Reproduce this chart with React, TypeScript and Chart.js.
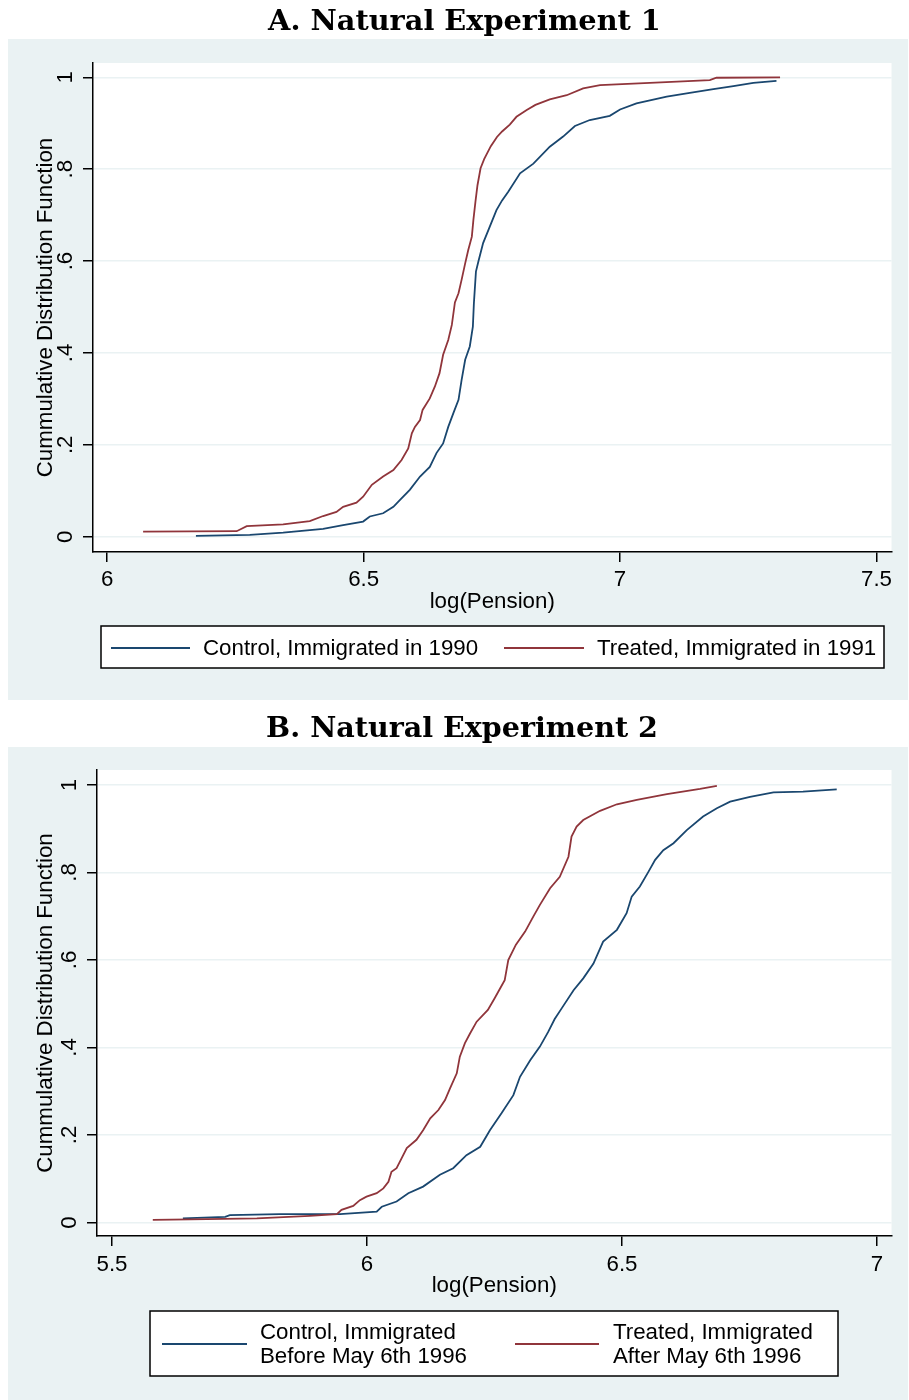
import React, { useEffect, useRef } from "react";
import { Chart, registerables } from "chart.js";

Chart.register(...registerables);

const SANS = "Arial, 'Liberation Sans', Helvetica, sans-serif";
const SERIF = "'DejaVu Serif', serif";
const NAVY = "rgb(26,71,111)";
const MAROON = "rgb(144,53,59)";
const PANEL_BG = "rgb(234,242,243)";
const GRID = "rgb(234,242,243)";

// ---------- shared axis ticks ----------
const yTicks = [0, 0.2, 0.4, 0.6, 0.8, 1];
const yTickLabels = ["0", ".2", ".4", ".6", ".8", "1"];
const yTitle = "Cummulative Distribution Function";
const xTitle = "log(Pension)";

// ---------- Panel A ----------
const aTitle = "A. Natural Experiment 1";
const aXTicks = [6, 6.5, 7, 7.5];
const aXTickLabels = ["6", "6.5", "7", "7.5"];
const aLegend = [["Control, Immigrated in 1990"], ["Treated, Immigrated in 1991"]];

const aControlX = [6.173, 6.278, 6.343, 6.421, 6.46, 6.499, 6.512, 6.538, 6.558, 6.571, 6.59, 6.61, 6.629, 6.642, 6.655, 6.665, 6.675, 6.685, 6.691, 6.698, 6.707, 6.713, 6.715, 6.719, 6.724, 6.733, 6.746, 6.759, 6.77, 6.782, 6.805, 6.831, 6.863, 6.889, 6.912, 6.941, 6.98, 7.0, 7.032, 7.091, 7.136, 7.182, 7.221, 7.26, 7.305];
const aControlY = [0.002, 0.004, 0.009, 0.017, 0.025, 0.033, 0.044, 0.051, 0.065, 0.08, 0.102, 0.131, 0.152, 0.182, 0.203, 0.239, 0.269, 0.298, 0.341, 0.385, 0.414, 0.457, 0.508, 0.577, 0.6, 0.639, 0.675, 0.711, 0.732, 0.751, 0.791, 0.812, 0.849, 0.871, 0.894, 0.907, 0.916, 0.93, 0.943, 0.958, 0.966, 0.974, 0.981, 0.988, 0.992];

const aTreatedX = [6.07, 6.2525, 6.272, 6.343, 6.395, 6.421, 6.447, 6.46, 6.486, 6.499, 6.516, 6.538, 6.558, 6.574, 6.587, 6.594, 6.6, 6.61, 6.615, 6.629, 6.639, 6.648, 6.655, 6.665, 6.672, 6.678, 6.685, 6.691, 6.698, 6.704, 6.711, 6.714, 6.718, 6.722, 6.728, 6.735, 6.748, 6.76, 6.77, 6.785, 6.798, 6.818, 6.835, 6.863, 6.896, 6.928, 6.961, 7.058, 7.175, 7.188, 7.312];
const aTreatedY = [0.011, 0.012, 0.023, 0.027, 0.034, 0.045, 0.054, 0.065, 0.074, 0.087, 0.113, 0.131, 0.145, 0.167, 0.192, 0.225, 0.239, 0.254, 0.276, 0.301, 0.327, 0.356, 0.396, 0.428, 0.461, 0.51, 0.53, 0.559, 0.595, 0.624, 0.653, 0.689, 0.729, 0.765, 0.802, 0.822, 0.85, 0.87, 0.882, 0.897, 0.914, 0.929, 0.94, 0.952, 0.961, 0.976, 0.983, 0.988, 0.994, 0.999, 1.0];

// ---------- Panel B ----------
const bTitle = "B. Natural Experiment 2";
const bXTicks = [5.5, 6, 6.5, 7];
const bXTickLabels = ["5.5", "6", "6.5", "7"];
const bLegend = [["Control, Immigrated", "Before May 6th 1996"], ["Treated, Immigrated", "After May 6th 1996"]];

const bControlX = [5.639, 5.722, 5.731, 5.829, 5.947, 6.019, 6.029, 6.058, 6.081, 6.11, 6.143, 6.169, 6.195, 6.222, 6.241, 6.264, 6.287, 6.3, 6.32, 6.339, 6.355, 6.368, 6.382, 6.405, 6.424, 6.444, 6.463, 6.49, 6.509, 6.519, 6.535, 6.552, 6.565, 6.581, 6.601, 6.627, 6.659, 6.686, 6.712, 6.751, 6.797, 6.855, 6.921];
const bControlY = [0.0096, 0.013, 0.017, 0.019, 0.019, 0.025, 0.036, 0.048, 0.067, 0.082, 0.109, 0.124, 0.154, 0.173, 0.211, 0.25, 0.291, 0.333, 0.371, 0.402, 0.435, 0.465, 0.49, 0.531, 0.558, 0.592, 0.642, 0.669, 0.707, 0.745, 0.768, 0.802, 0.829, 0.851, 0.867, 0.897, 0.928, 0.947, 0.962, 0.973, 0.983, 0.985, 0.99];

const bTreatedX = [5.58, 5.653, 5.784, 5.888, 5.941, 5.95, 5.973, 5.986, 5.999, 6.019, 6.032, 6.042, 6.048, 6.058, 6.068, 6.078, 6.097, 6.11, 6.124, 6.14, 6.153, 6.163, 6.176, 6.182, 6.192, 6.202, 6.215, 6.237, 6.25, 6.262, 6.27, 6.277, 6.292, 6.31, 6.326, 6.339, 6.359, 6.378, 6.395, 6.401, 6.411, 6.424, 6.457, 6.49, 6.529, 6.588, 6.653, 6.686];
const bTreatedY = [0.006, 0.007, 0.0096, 0.015, 0.019, 0.029, 0.038, 0.051, 0.059, 0.067, 0.078, 0.093, 0.116, 0.124, 0.147, 0.17, 0.189, 0.211, 0.238, 0.257, 0.28, 0.307, 0.341, 0.379, 0.41, 0.432, 0.459, 0.486, 0.512, 0.537, 0.554, 0.6, 0.635, 0.665, 0.699, 0.726, 0.764, 0.79, 0.836, 0.882, 0.905, 0.92, 0.941, 0.956, 0.966, 0.979, 0.991, 0.998];

type Geo = {
  title: string;
  titleLeft: number;
  titleRight: number;
  titleBaseline: number;
  bgTop: number;
  plotLeft: number;
  plotTop: number;
  plotBottom: number;
  xMin: number;
  xMax: number;
  yMin: number;
  yMax: number;
  xTicks: number[];
  xTickLabels: string[];
  xTickPad: number;
  legend: string[][];
  legendBox: [number, number, number, number];
  legendLineY: number;
  legendItems: { x1: number; x2: number; tx: number }[];
  legendLineGap: number;
  seriesX: number[][];
  seriesY: number[][];
};

const W = 909;
const H = 700;
const PLOT_RIGHT = 891.5;
const X_SCALE_H = 80;
const TEXT_SIZE = 22.3;

const panelA: Geo = {
  title: aTitle,
  titleLeft: 268,
  titleRight: 661,
  titleBaseline: 30,
  bgTop: 39,
  plotLeft: 93,
  plotTop: 63,
  plotBottom: 552,
  xMin: 5.9723,
  xMax: 7.5293,
  yMin: -0.0333,
  yMax: 1.0311,
  xTicks: aXTicks,
  xTickLabels: aXTickLabels,
  xTickPad: 4,
  legend: aLegend,
  legendBox: [101, 626, 884, 668],
  legendLineY: 648,
  legendItems: [
    { x1: 111, x2: 190, tx: 203 },
    { x1: 504, x2: 584, tx: 597 },
  ],
  legendLineGap: 24,
  seriesX: [aControlX, aTreatedX],
  seriesY: [aControlY, aTreatedY],
};

const panelB: Geo = {
  title: bTitle,
  titleLeft: 266,
  titleRight: 658,
  titleBaseline: 37,
  bgTop: 47,
  plotLeft: 97,
  plotTop: 70,
  plotBottom: 536,
  xMin: 5.4706,
  xMax: 7.0284,
  yMin: -0.0309,
  yMax: 1.0343,
  xTicks: bXTicks,
  xTickLabels: bXTickLabels,
  xTickPad: 5,
  legend: bLegend,
  legendBox: [150, 611, 838, 676],
  legendLineY: 644,
  legendItems: [
    { x1: 162, x2: 247, tx: 260 },
    { x1: 515, x2: 599, tx: 613 },
  ],
  legendLineGap: 24,
  seriesX: [bControlX, bTreatedX],
  seriesY: [bControlY, bTreatedY],
};

function makeDecor(g: Geo) {
  return {
    id: "decor",
    beforeDraw(chart: any) {
      const ctx = chart.ctx as CanvasRenderingContext2D;
      ctx.save();
      ctx.fillStyle = "#ffffff";
      ctx.fillRect(0, 0, chart.width, chart.height);
      ctx.fillStyle = PANEL_BG;
      ctx.fillRect(8, g.bgTop, 900, chart.height - g.bgTop);
      const a = chart.chartArea;
      ctx.fillStyle = "#ffffff";
      ctx.fillRect(a.left, a.top, a.right - a.left, a.bottom - a.top);
      // title, sized to the reference's width
      ctx.fillStyle = "#000";
      ctx.font = `bold 28px ${SERIF}`;
      const w28 = ctx.measureText(g.title).width;
      const target = g.titleRight - g.titleLeft;
      const size = Math.min(31, Math.max(24, (28 * target) / w28));
      ctx.font = `bold ${size.toFixed(2)}px ${SERIF}`;
      ctx.textAlign = "center";
      ctx.textBaseline = "alphabetic";
      ctx.fillText(g.title, (g.titleLeft + g.titleRight) / 2, g.titleBaseline);
      ctx.restore();
    },
    afterDraw(chart: any) {
      const ctx = chart.ctx as CanvasRenderingContext2D;
      ctx.save();
      const [l, t, r, b] = g.legendBox;
      ctx.fillStyle = "#ffffff";
      ctx.fillRect(l, t, r - l, b - t);
      ctx.strokeStyle = "#000";
      ctx.lineWidth = 1.5;
      ctx.strokeRect(l, t, r - l, b - t);
      const colors = [NAVY, MAROON];
      ctx.font = `${TEXT_SIZE}px ${SANS}`;
      ctx.textAlign = "left";
      ctx.textBaseline = "middle";
      g.legendItems.forEach((it, i) => {
        ctx.strokeStyle = colors[i];
        ctx.lineWidth = 1.8;
        ctx.beginPath();
        ctx.moveTo(it.x1, g.legendLineY);
        ctx.lineTo(it.x2, g.legendLineY);
        ctx.stroke();
        const lines = g.legend[i];
        const n = lines.length;
        ctx.fillStyle = "#000";
        lines.forEach((s, k) => {
          const y = g.legendLineY + 1 + (k - (n - 1) / 2) * g.legendLineGap;
          ctx.fillText(s, it.tx, y);
        });
      });
      ctx.restore();
    },
  };
}

function Panel({ g, top }: { g: Geo; top: number }) {
  const ref = useRef<HTMLCanvasElement | null>(null);
  useEffect(() => {
    if (!ref.current) return;
    const colors = [NAVY, MAROON];
    const names = [g.legend[0].join(" "), g.legend[1].join(" ")];
    const chart = new Chart(ref.current, {
      type: "line",
      data: {
        datasets: g.seriesX.map((xs, i) => ({
          label: names[i],
          data: xs.map((x, k) => ({ x, y: g.seriesY[i][k] })),
          borderColor: colors[i],
          backgroundColor: colors[i],
          borderWidth: 1.8,
          pointRadius: 0,
          tension: 0,
          fill: false,
          order: 2 - i,
        })),
      },
      options: {
        responsive: false,
        animation: false,
        devicePixelRatio: 1,
        events: [],
        layout: {
          padding: {
            left: 8,
            right: W - PLOT_RIGHT,
            top: g.plotTop,
            bottom: H - g.plotBottom - X_SCALE_H,
          },
        },
        plugins: {
          legend: { display: false },
          tooltip: { enabled: false },
          title: { display: false },
        },
        scales: {
          x: {
            type: "linear",
            position: "bottom",
            min: g.xMin,
            max: g.xMax,
            afterBuildTicks: (s: any) => {
              s.ticks = g.xTicks.map((v) => ({ value: v }));
            },
            afterFit: (s: any) => {
              s.height = X_SCALE_H;
            },
            grid: {
              drawOnChartArea: false,
              drawTicks: true,
              tickLength: 10,
              tickColor: "#000",
              tickWidth: 1.5,
              color: "#000",
              lineWidth: 1.5,
            },
            border: { display: true, color: "#000", width: 1.5 },
            ticks: {
              autoSkip: false,
              maxRotation: 0,
              minRotation: 0,
              padding: g.xTickPad,
              color: "#000",
              font: { family: SANS, size: TEXT_SIZE },
              callback: (_v: any, i: number) => g.xTickLabels[i],
            },
            title: {
              display: true,
              text: xTitle,
              color: "#000",
              font: { family: SANS, size: TEXT_SIZE },
              padding: { top: 0, bottom: 16.5 },
            },
          },
          y: {
            type: "linear",
            position: "left",
            min: g.yMin,
            max: g.yMax,
            afterBuildTicks: (s: any) => {
              s.ticks = yTicks.map((v) => ({ value: v }));
            },
            afterFit: (s: any) => {
              s.width = g.plotLeft - 8;
            },
            grid: {
              drawOnChartArea: true,
              drawTicks: true,
              tickLength: 10,
              tickColor: "#000",
              tickWidth: 1.5,
              color: GRID,
              lineWidth: 1.5,
            },
            border: { display: true, color: "#000", width: 1.5 },
            ticks: {
              autoSkip: false,
              minRotation: 90,
              maxRotation: 90,
              crossAlign: "center",
              padding: 7.8,
              color: "#000",
              font: { family: SANS, size: TEXT_SIZE },
              callback: (_v: any, i: number) => yTickLabels[i],
            },
            title: {
              display: true,
              text: yTitle,
              color: "#000",
              font: { family: SANS, size: TEXT_SIZE },
              padding: { top: 24.6, bottom: 0 },
            },
          },
        },
      },
      plugins: [makeDecor(g)],
    } as any);
    return () => chart.destroy();
  }, [g]);
  return (
    <canvas
      ref={ref}
      width={W}
      height={H}
      style={{ position: "absolute", left: 0, top, width: W, height: H, display: "block" }}
    />
  );
}

export default function App() {
  return (
    <div style={{ position: "absolute", left: 0, top: 0, width: W, height: 2 * H, background: "#fff" }}>
      <Panel g={panelA} top={0} />
      <Panel g={panelB} top={H} />
    </div>
  );
}
